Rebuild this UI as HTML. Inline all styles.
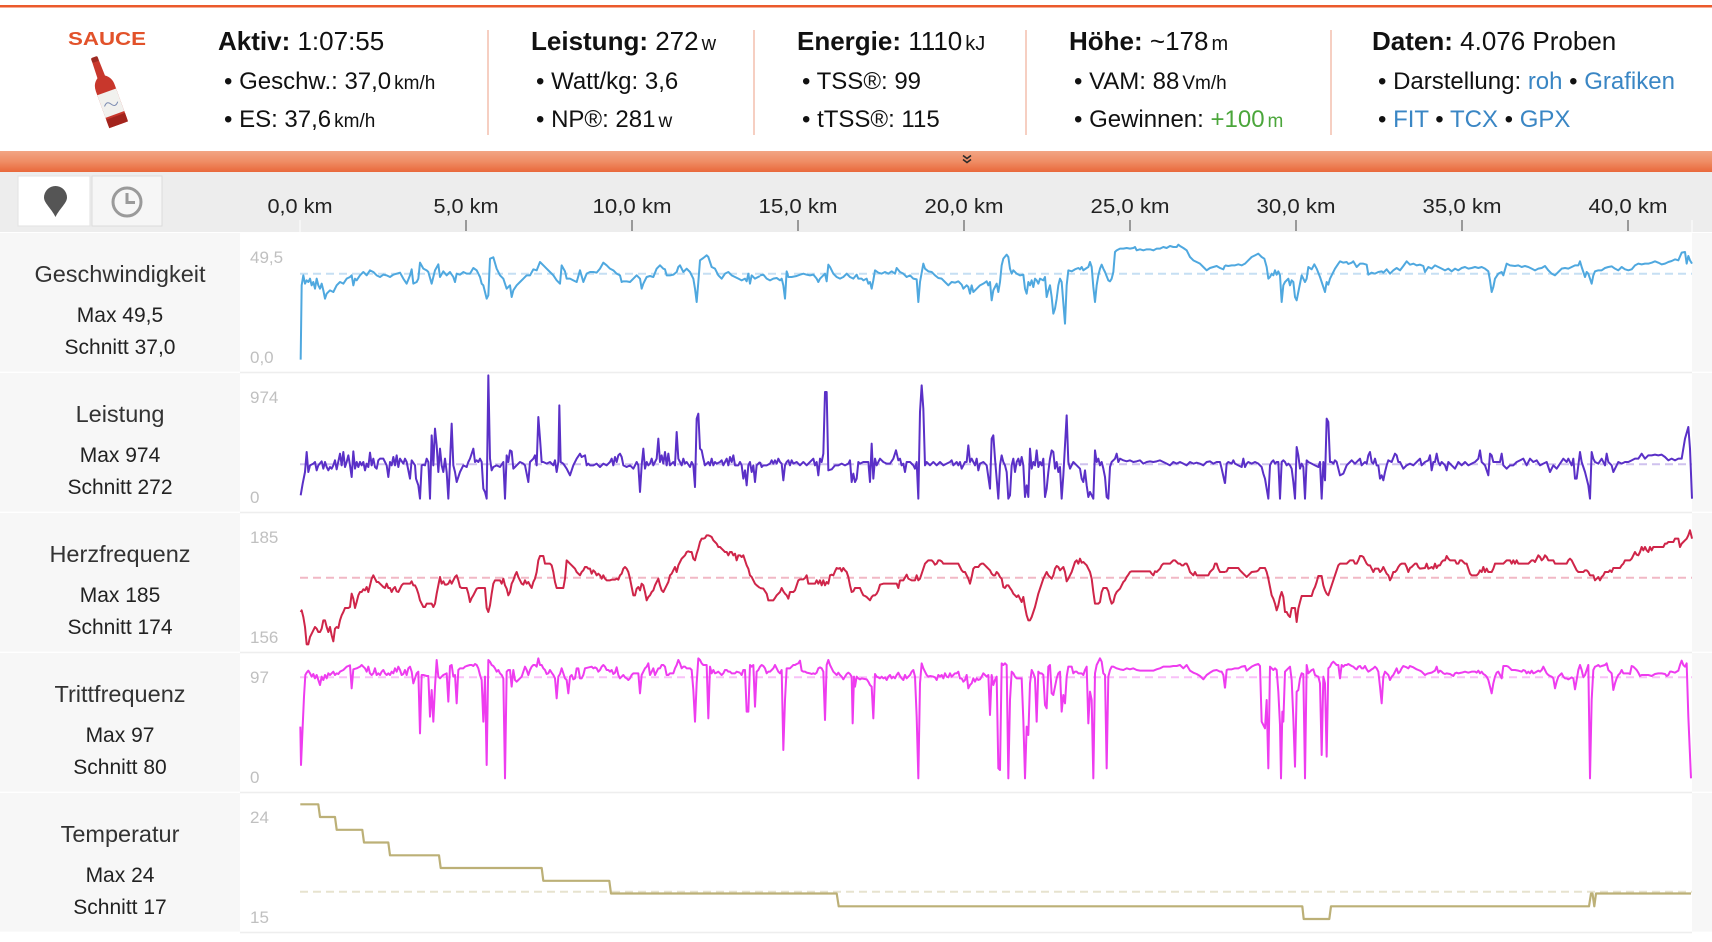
<!DOCTYPE html>
<html><head><meta charset="utf-8"><style>
html,body{margin:0;padding:0;background:#fff;}
body{width:1712px;height:942px;overflow:hidden;}
svg{display:block;font-family:"Liberation Sans",sans-serif;}
</style></head><body>
<svg width="1712" height="942" viewBox="0 0 1712 942" xmlns="http://www.w3.org/2000/svg">
<defs>
<linearGradient id="band" x1="0" y1="0" x2="0" y2="1">
<stop offset="0" stop-color="#f2a584"/><stop offset="0.5" stop-color="#ef8d65"/><stop offset="1" stop-color="#e9683b"/>
</linearGradient>
</defs>
<rect x="0" y="0" width="1712" height="942" fill="#fff"/>
<rect x="0" y="5" width="1712" height="2.5" fill="#eb5a2c"/>
<text x="68" y="45" font-size="18" font-weight="700" fill="#e2522a" textLength="78" lengthAdjust="spacingAndGlyphs">SAUCE</text>
<g transform="rotate(-20 106 90)">
<rect x="102.5" y="55" width="7" height="6" rx="1.5" fill="#9e2a22"/>
<path d="M102.5,60 L109.5,60 L110,76 Q116,80 116,88 L116,124 Q116,127 113,127 L99,127 Q96,127 96,124 L96,88 Q96,80 102,76 Z" fill="#c8372c"/>
<rect x="96" y="92" width="20" height="24" fill="#f1f1ee"/>
<path d="M99,105 q4,-5 7,0 t7,0" stroke="#7a8ab0" stroke-width="1" fill="none"/>
<rect x="96" y="118" width="20" height="9" fill="#a3241d"/>
</g>
<g stroke="#f4c3b2" stroke-width="1.6">
<line x1="488" y1="30" x2="488" y2="135"/>
<line x1="754" y1="30" x2="754" y2="135"/>
<line x1="1026" y1="30" x2="1026" y2="135"/>
<line x1="1331" y1="30" x2="1331" y2="135"/>
</g>
<g fill="#111">
<text x="218" y="50" font-size="26"><tspan font-weight="700">Aktiv:</tspan> 1:07:55</text>
<text x="224" y="89" font-size="24">• Geschw.: 37,0<tspan dx="3" font-size="19">km/h</tspan></text>
<text x="224" y="127" font-size="24">• ES: 37,6<tspan dx="3" font-size="19">km/h</tspan></text>

<text x="531" y="50" font-size="26"><tspan font-weight="700">Leistung:</tspan> 272<tspan dx="3" font-size="20">w</tspan></text>
<text x="536" y="89" font-size="24">• Watt/kg: 3,6</text>
<text x="536" y="127" font-size="24">• NP®: 281<tspan dx="3" font-size="19">w</tspan></text>

<text x="797" y="50" font-size="26"><tspan font-weight="700">Energie:</tspan> 1110<tspan dx="3" font-size="20">kJ</tspan></text>
<text x="802" y="89" font-size="24">• TSS®: 99</text>
<text x="802" y="127" font-size="24">• tTSS®: 115</text>

<text x="1069" y="50" font-size="26"><tspan font-weight="700">Höhe:</tspan> ~178<tspan dx="3" font-size="20">m</tspan></text>
<text x="1074" y="89" font-size="24">• VAM: 88<tspan dx="3" font-size="19">Vm/h</tspan></text>
<text x="1074" y="127" font-size="24">• Gewinnen: <tspan fill="#4ba63b">+100</tspan><tspan dx="3" font-size="19" fill="#4ba63b">m</tspan></text>

<text x="1372" y="50" font-size="26"><tspan font-weight="700">Daten:</tspan> 4.076 Proben</text>
<text x="1378" y="89" font-size="24">• Darstellung: <tspan fill="#3a86c4">roh</tspan> • <tspan fill="#3a86c4">Grafiken</tspan></text>
<text x="1378" y="127" font-size="24">• <tspan fill="#3a86c4">FIT</tspan> • <tspan fill="#3a86c4">TCX</tspan> • <tspan fill="#3a86c4">GPX</tspan></text>
</g>
<rect x="0" y="151" width="1712" height="21" fill="url(#band)"/>
<g stroke="#2a2a2a" stroke-width="1.6" fill="none">
<polyline points="963,155.5 967,158.5 971,155.5"/>
<polyline points="963,159.5 967,162.5 971,159.5"/>
</g>
<rect x="0" y="172" width="1712" height="60" fill="#ededed"/>
<rect x="18" y="176" width="72" height="50" fill="#fff" stroke="#e2e2e2" stroke-width="1"/>
<rect x="92" y="176" width="70" height="50" fill="#f6f6f6" stroke="#dcdcdc" stroke-width="1"/>
<path d="M55.5,217 C51,208 44,203 44,197.5 A11.5,11.5 0 1 1 67,197.5 C67,203 60,208 55.5,217 Z" fill="#555"/>
<circle cx="127" cy="202" r="14" fill="none" stroke="#9a9a9a" stroke-width="3"/>
<polyline points="127,193 127,202.5 135,202.5" fill="none" stroke="#9a9a9a" stroke-width="3"/>
<g font-size="20" fill="#222" text-anchor="middle">
<text x="300" y="213" textLength="65" lengthAdjust="spacingAndGlyphs">0,0 km</text>
<text x="466" y="213" textLength="65" lengthAdjust="spacingAndGlyphs">5,0 km</text>
<text x="632" y="213" textLength="79" lengthAdjust="spacingAndGlyphs">10,0 km</text>
<text x="798" y="213" textLength="79" lengthAdjust="spacingAndGlyphs">15,0 km</text>
<text x="964" y="213" textLength="79" lengthAdjust="spacingAndGlyphs">20,0 km</text>
<text x="1130" y="213" textLength="79" lengthAdjust="spacingAndGlyphs">25,0 km</text>
<text x="1296" y="213" textLength="79" lengthAdjust="spacingAndGlyphs">30,0 km</text>
<text x="1462" y="213" textLength="79" lengthAdjust="spacingAndGlyphs">35,0 km</text>
<text x="1628" y="213" textLength="79" lengthAdjust="spacingAndGlyphs">40,0 km</text>
</g>
<g stroke="#999" stroke-width="2">
<line x1="466" y1="220" x2="466" y2="231"/><line x1="632" y1="220" x2="632" y2="231"/>
<line x1="798" y1="220" x2="798" y2="231"/><line x1="964" y1="220" x2="964" y2="231"/>
<line x1="1130" y1="220" x2="1130" y2="231"/><line x1="1296" y1="220" x2="1296" y2="231"/>
<line x1="1462" y1="220" x2="1462" y2="231"/><line x1="1628" y1="220" x2="1628" y2="231"/>
</g>
<line x1="300" y1="220" x2="300" y2="232" stroke="#f8f8f8" stroke-width="1.5"/>
<line x1="1692" y1="220" x2="1692" y2="232" stroke="#f8f8f8" stroke-width="1.5"/>

<g fill="#f7f7f7">
<rect x="0" y="233" width="240" height="138.7"/><rect x="1692" y="233" width="20" height="138.7"/>
<rect x="0" y="373" width="240" height="138.7"/><rect x="1692" y="373" width="20" height="138.7"/>
<rect x="0" y="513" width="240" height="138.7"/><rect x="1692" y="513" width="20" height="138.7"/>
<rect x="0" y="653" width="240" height="138.7"/><rect x="1692" y="653" width="20" height="138.7"/>
<rect x="0" y="793" width="240" height="138.7"/><rect x="1692" y="793" width="20" height="138.7"/>
</g>
<g fill="#eeeeee">
<rect x="240" y="371.7" width="1452" height="1.6"/>
<rect x="240" y="511.7" width="1452" height="1.6"/>
<rect x="240" y="651.7" width="1452" height="1.6"/>
<rect x="240" y="791.7" width="1452" height="1.6"/>
<rect x="240" y="931.7" width="1452" height="1.6"/>
</g>
<g text-anchor="middle" fill="#222">
<text x="120" y="282" font-size="23.5" fill="#333">Geschwindigkeit</text>
<text x="120" y="322" font-size="21">Max 49,5</text>
<text x="120" y="354" font-size="21">Schnitt 37,0</text>
<text x="120" y="422" font-size="23.5" fill="#333">Leistung</text>
<text x="120" y="462" font-size="21">Max 974</text>
<text x="120" y="494" font-size="21">Schnitt 272</text>
<text x="120" y="562" font-size="23.5" fill="#333">Herzfrequenz</text>
<text x="120" y="602" font-size="21">Max 185</text>
<text x="120" y="634" font-size="21">Schnitt 174</text>
<text x="120" y="702" font-size="23.5" fill="#333">Trittfrequenz</text>
<text x="120" y="742" font-size="21">Max 97</text>
<text x="120" y="774" font-size="21">Schnitt 80</text>
<text x="120" y="842" font-size="23.5" fill="#333">Temperatur</text>
<text x="120" y="882" font-size="21">Max 24</text>
<text x="120" y="914" font-size="21">Schnitt 17</text>
</g>
<g font-size="17" fill="#c0c0c0">
<text x="250" y="263">49,5</text><text x="250" y="363">0,0</text>
<text x="250" y="403">974</text><text x="250" y="503">0</text>
<text x="250" y="543">185</text><text x="250" y="643">156</text>
<text x="250" y="683">97</text><text x="250" y="783">0</text>
<text x="250" y="823">24</text><text x="250" y="923">15</text>
</g>
<g stroke-width="2" stroke-dasharray="8 5" fill="none">
<line x1="300" y1="273.7" x2="1692" y2="273.7" stroke="#c6dff3"/>
<line x1="300" y1="464.3" x2="1692" y2="464.3" stroke="#cfc2ee"/>
<line x1="300" y1="577.7" x2="1692" y2="577.7" stroke="#f1b8c5"/>
<line x1="300" y1="677.3" x2="1692" y2="677.3" stroke="#f8c0f8"/>
<line x1="300" y1="891.7" x2="1692" y2="891.7" stroke="#e7e3cf"/>
</g>

<g fill="none" stroke="#4fa8df" stroke-width="6" stroke-linejoin="round">
<polyline transform="translate(290,232) scale(0.333333)" points="32,383 35,160 40,130 45,155 50,145 55,150 60,140 65,160 70,150 75,170 80,140 85,160 90,170 95,155 100,175 105,200 110,185 120,175 130,180 140,160 150,150 160,155 170,140 180,135 185,130 190,160 195,140 200,145 210,130 220,120 230,130 240,115 250,120 260,130 270,135 280,128 290,130 300,135 310,128 320,125 330,122 340,140 350,155 360,130 365,112 370,155 380,150 385,140 390,92 400,110 410,115 415,120 425,155 435,115 445,97 450,135 460,118 470,130 480,120 490,135 495,150 500,125 510,128 520,120 530,125 540,125 550,108 560,115 570,135 575,155 580,160 590,200 595,190 600,80 610,76 620,110 630,130 640,140 650,170 660,160 665,195 670,175 680,160 690,150 700,140 710,130 720,130 730,112 740,115 750,90 760,100 770,110 780,120 790,130 800,145 810,155 815,100 825,118 830,140 840,140 850,145 860,150 870,115 880,150 890,125 900,120 910,120 920,122 930,110 940,92 950,100 960,110 970,115 980,125 990,130 995,150 1000,148 1010,148 1020,150 1030,140 1040,130 1050,140 1055,170 1060,155 1070,135 1080,132 1090,135 1100,110 1110,100 1120,110 1125,112 1130,130 1140,130 1150,128 1160,120 1165,105 1170,100 1180,120 1190,110 1200,120 1210,140 1215,170 1220,210 1225,150 1230,85 1240,78 1250,70 1255,75 1265,105 1275,110 1285,130 1295,140 1305,125 1315,120 1325,130 1335,135 1345,140 1355,145 1365,140 1370,148 1375,125 1380,155 1385,130 1395,140 1410,132"/>
<polyline transform="translate(760,232) scale(0.333333)" points="0,130 10,128 20,140 30,145 40,140 50,138 60,145 65,140 70,160 75,200 80,118 85,135 95,135 110,132 120,128 130,125 140,128 150,130 160,128 170,140 175,150 180,140 190,130 195,125 200,148 205,98 210,105 215,115 220,125 230,135 240,140 250,135 260,125 270,135 280,140 290,128 295,140 305,140 310,145 320,140 325,155 330,150 335,170 340,145 345,115 355,122 365,125 375,120 385,125 395,118 405,125 410,108 420,120 430,125 440,135 450,130 460,140 470,142 475,210 480,150 490,95 495,110 505,118 515,120 525,130 535,138 545,140 555,150 565,160 575,150 585,152 595,148 605,158 610,170 620,160 625,165 630,185 635,160 640,180 650,170 660,160 670,155 680,148 685,160 690,150 695,205 700,175 705,165 710,155 715,180 720,150 725,100 730,80 740,68 745,75 750,110 755,125 760,115 770,125 780,130 790,128 795,170 800,185 805,150 810,160 815,145 820,165 825,140 830,145 835,155 840,140 850,145 855,135 860,195 865,175 870,160 875,195 880,245 885,230 890,200 895,160 900,140 905,150 915,275 920,160 925,115 935,118 945,112 955,108 960,112 965,105 970,115 980,108 985,105 990,90 995,105 1000,165 1005,210 1010,160 1015,130 1020,110 1025,98 1030,110 1035,120 1045,145 1050,148 1055,140 1060,120 1065,60 1070,55 1080,50 1090,50 1100,48 1110,50 1120,48 1125,45 1130,55 1140,52 1150,55 1160,52 1170,52 1180,55 1190,50 1200,50 1210,45 1220,48 1230,42 1240,45 1250,45 1255,38 1260,42 1270,48 1280,55 1290,75 1300,85 1310,90 1320,95 1330,105 1340,115 1350,108 1360,105 1370,102 1380,108 1390,112 1395,100"/>
<polyline transform="translate(1225,232) scale(0.333333)" points="0,100 10,102 20,100 30,100 40,97 50,100 60,95 70,85 80,75 90,70 100,65 110,75 118,80 125,105 130,140 135,135 140,125 145,130 150,115 155,128 160,118 165,130 170,210 175,160 180,150 190,140 195,160 200,145 205,150 210,195 215,205 220,180 230,130 240,150 245,140 250,105 260,112 268,97 275,110 285,135 295,165 300,180 305,150 310,158 315,140 320,130 330,110 340,95 345,88 355,92 365,90 370,96 380,92 385,88 395,105 405,95 415,95 425,98 430,128 440,122 450,125 460,120 470,118 475,122 485,112 495,125 505,115 515,108 525,115 535,102 545,88 555,98 565,95 575,100 585,98 595,102 600,120 610,105 620,110 630,100 640,105 650,110 660,115 670,110 680,118 690,110 700,115 710,108 720,105 730,110 740,108 750,105 760,108 770,105 780,110 790,118 795,145 800,180 805,165 810,140 820,125 830,120 835,130 845,95 855,100 870,102 880,100 890,105 900,102 910,105 920,110 930,115 940,110 950,108 960,102 970,115 980,125 990,130 1000,120 1010,110 1020,108 1030,110 1040,105 1050,100 1060,100 1065,88 1070,105 1080,135 1085,120 1090,125 1100,155 1105,130 1110,118 1120,115 1130,115 1140,108 1150,105 1160,103 1170,110 1180,115 1190,105 1200,112 1210,115 1220,112 1230,100 1240,95 1250,97 1260,95 1270,95 1280,92 1290,88 1300,92 1310,97 1320,95 1330,90 1340,87 1350,82 1360,85 1370,62 1380,60 1385,95 1390,72 1395,85 1401,95"/>
</g>

<g fill="none" stroke="#5a30c7" stroke-width="6" stroke-linejoin="round">
<polyline transform="translate(290,232) scale(0.333333)" points="32,790 38,755 45,720 50,660 55,720 60,700 70,695 75,690 80,715 85,700 95,688 100,710 105,690 110,705 115,715 120,705 125,710 130,700 135,685 140,712 150,665 155,700 160,660 165,705 170,690 175,670 180,700 185,735 190,658 195,710 200,690 205,705 210,690 215,700 220,690 225,715 230,695 235,705 240,662 245,700 250,680 255,705 260,710 265,685 270,680 280,680 290,700 295,735 300,690 305,700 310,675 315,700 320,670 325,705 330,680 340,695 345,680 350,690 355,715 360,740 365,685 375,700 378,740 385,760 390,800 395,700 400,698 405,700 410,680 415,690 420,800 425,610 430,700 435,590 440,640 445,720 450,650 455,700 460,720 465,680 470,720 475,800 480,690 485,575 490,700 495,720 500,750 510,720 520,700 530,705 535,690 540,680 545,665 550,650 555,690 560,685 565,690 570,680 575,690 580,770 585,780 590,800 595,430 600,680 605,715 610,705 620,700 630,705 640,690 645,800 650,670 655,690 660,655 665,658 670,710 675,705 680,700 690,690 700,695 705,700 710,725 715,750 720,690 730,680 735,670 740,700 745,555 750,620 755,690 760,690 770,695 780,690 790,700 795,685 800,720 805,690 808,520 812,690 820,695 830,710 835,720 840,730 850,700 860,680 870,665 875,675 885,670 890,700 895,695 900,700 910,700 920,695 930,705 940,695 950,700 960,690 965,680 970,700 975,675 980,690 985,670 990,665 995,675 1000,700 1010,705 1020,700 1030,710 1040,690 1045,700 1050,780 1055,700 1060,650 1065,710 1070,690 1075,700 1080,695 1085,680 1090,700 1095,690 1100,680 1105,620 1110,690 1115,670 1120,695 1125,660 1130,700 1135,665 1140,700 1150,690 1155,700 1160,600 1165,680 1170,690 1175,700 1180,680 1185,695 1190,690 1200,705 1205,690 1210,700 1215,765 1220,560 1225,545 1230,650 1235,655 1240,680 1245,700 1250,695 1255,690 1260,700 1265,680 1270,700 1275,690 1280,695 1290,690 1295,685 1300,700 1305,690 1310,680 1315,700 1320,675 1325,690 1330,670 1335,700 1345,700 1350,690 1355,700 1360,740 1365,715 1370,760 1375,700 1380,690 1385,720 1390,700 1395,750 1400,700 1410,690"/>
<polyline transform="translate(760,232) scale(0.333333)" points="0,690 5,705 10,700 20,700 30,695 35,685 40,695 45,685 50,695 55,680 60,690 65,695 70,745 75,700 80,690 85,685 90,700 95,685 100,695 110,690 115,695 120,700 130,690 140,700 150,690 155,685 160,680 165,700 170,690 175,730 180,680 185,690 190,665 195,480 200,480 205,715 215,712 225,700 235,700 245,695 255,700 265,695 270,685 275,750 280,725 285,750 290,740 295,690 300,695 310,690 320,690 325,690 330,750 335,635 340,740 345,680 350,700 355,690 360,680 370,690 380,695 390,695 400,680 408,655 415,685 420,680 425,700 430,695 435,720 440,690 450,690 460,700 465,710 470,690 475,800 480,540 485,460 490,530 495,700 500,690 510,700 520,690 530,700 540,690 550,700 560,695 570,690 575,685 580,700 590,690 595,700 600,690 605,710 615,690 620,690 625,640 630,690 635,680 640,690 645,700 650,680 655,715 660,695 670,690 680,700 690,770 695,620 700,610 705,680 710,740 715,800 720,700 725,670 730,690 735,700 740,720 745,800 750,790 755,700 760,680 765,720 770,690 775,680 780,700 785,675 790,700 795,795 800,760 805,795 810,650 815,710 820,690 825,700 830,655 835,705 840,690 845,700 850,680 855,795 860,770 865,720 870,680 875,655 880,660 885,710 890,690 895,720 900,705 905,800 910,730 915,640 920,550 925,690 930,710 935,700 940,690 950,700 960,710 965,740 970,750 975,715 980,760 985,795 990,780 995,790 1000,800 1005,655 1010,690 1015,680 1020,700 1025,690 1030,710 1035,735 1040,795 1045,800 1050,705 1055,690 1060,685 1065,680 1070,665 1075,690 1080,680 1090,685 1100,688 1110,685 1120,690 1130,688 1140,685 1150,695 1160,690 1170,688 1180,690 1190,688 1200,685 1210,690 1220,695 1230,700 1240,690 1250,695 1260,690 1270,695 1280,700 1290,690 1300,695 1310,692 1320,695 1330,700 1340,690 1350,688 1360,695 1370,690 1380,690 1385,710 1395,755"/>
<polyline transform="translate(1225,232) scale(0.333333)" points="0,755 5,695 10,690 20,695 25,685 30,695 40,700 50,705 55,680 60,705 65,695 70,690 80,695 90,690 100,695 110,705 115,725 120,740 125,770 130,800 135,700 140,690 145,685 150,695 155,690 160,690 165,800 170,690 175,685 180,690 185,700 190,695 195,700 200,710 205,750 210,800 215,645 220,670 225,710 230,695 235,705 240,800 245,685 250,690 260,695 270,700 280,705 285,690 290,800 295,690 300,745 305,560 310,570 315,690 320,690 325,695 330,685 335,690 345,730 355,725 365,700 375,690 380,685 390,695 400,685 405,680 410,700 420,690 425,695 430,670 435,660 440,690 445,695 450,680 455,700 460,700 465,740 470,730 475,745 480,720 485,700 490,685 500,690 510,665 515,670 520,690 525,690 535,710 545,700 555,695 565,700 575,690 585,680 590,700 600,690 610,685 615,670 620,715 625,690 630,690 635,665 640,690 645,700 650,690 660,700 665,715 670,690 680,700 690,710 700,690 710,700 720,690 730,700 740,695 750,690 760,680 765,655 770,690 780,700 790,730 795,665 800,670 805,690 815,690 825,690 830,665 835,700 845,710 855,700 865,700 875,690 885,685 895,680 905,700 915,680 925,690 935,685 945,700 955,695 965,690 975,720 985,700 995,710 1005,695 1015,680 1025,690 1030,680 1040,700 1045,680 1050,740 1055,740 1060,700 1065,660 1070,690 1080,720 1085,740 1090,760 1095,800 1100,660 1105,680 1110,690 1120,695 1130,680 1140,700 1145,665 1150,690 1160,700 1165,720 1175,700 1180,690 1190,695 1200,690 1210,690 1220,685 1230,680 1240,680 1250,665 1260,680 1270,670 1280,670 1290,668 1300,670 1310,668 1320,675 1330,685 1340,680 1350,685 1360,680 1370,680 1380,620 1390,585 1395,650 1401,800"/>
</g>

<g fill="none" stroke="#cf2549" stroke-width="6" stroke-linejoin="round">
<polyline transform="translate(290,232) scale(0.333333)" points="32,1140 35,1135 40,1155 45,1185 50,1237 55,1237 60,1215 65,1205 70,1195 75,1185 80,1190 85,1200 90,1200 95,1190 100,1165 105,1165 110,1185 115,1200 120,1185 125,1210 130,1228 135,1190 140,1185 145,1188 150,1165 155,1150 160,1140 165,1128 170,1128 175,1128 180,1125 185,1085 190,1100 195,1128 200,1110 205,1090 210,1080 215,1080 220,1072 225,1075 230,1065 235,1080 240,1060 245,1040 250,1030 255,1040 260,1050 265,1050 270,1055 275,1060 280,1065 285,1068 290,1055 295,1068 300,1068 305,1080 310,1070 315,1065 320,1078 325,1080 330,1070 335,1060 340,1055 345,1055 350,1055 355,1055 360,1055 365,1048 370,1060 375,1060 380,1070 385,1085 390,1105 395,1115 400,1125 405,1125 410,1115 420,1115 425,1115 430,1125 435,1115 440,1085 445,1060 450,1035 455,1055 460,1048 465,1058 470,1058 475,1055 480,1045 485,1055 490,1045 495,1035 500,1030 505,1045 510,1065 515,1068 520,1068 525,1068 530,1068 535,1085 540,1110 545,1098 550,1090 555,1080 560,1070 565,1068 570,1068 575,1068 580,1068 585,1068 590,1128 595,1140 600,1120 605,1085 610,1055 615,1045 620,1045 625,1045 630,1045 635,1055 640,1040 645,1060 650,1070 655,1090 660,1080 665,1055 670,1045 675,1030 680,1020 685,1035 690,1045 695,1055 700,1058 705,1045 710,1055 715,1050 720,1060 725,1068 730,1050 735,1040 740,1020 745,985 750,972 755,972 760,972 765,995 770,995 775,995 780,995 785,1000 790,1020 795,1050 800,1068 805,1068 810,1068 815,1068 820,1068 825,1040 830,985 835,990 840,995 845,1000 850,1005 855,1010 860,1020 865,1025 870,1030 875,1020 880,1015 885,1005 890,1005 895,1010 900,1010 905,1025 910,1015 915,1020 920,1030 925,1025 930,1030 935,1040 940,1030 945,1040 950,1045 955,1045 960,1045 965,1043 970,1043 975,1043 980,1040 985,1043 990,1030 995,1025 1000,1010 1005,1005 1010,1010 1015,1020 1020,1040 1025,1065 1030,1090 1035,1090 1040,1070 1045,1065 1050,1075 1055,1055 1060,1060 1065,1080 1070,1105 1075,1095 1080,1090 1085,1080 1090,1075 1095,1060 1100,1050 1105,1040 1110,1060 1115,1075 1120,1080 1125,1070 1130,1060 1135,1050 1140,1030 1145,1025 1150,1015 1155,1005 1160,1020 1165,1000 1170,990 1175,980 1180,975 1185,970 1190,960 1195,958 1200,960 1205,960 1210,980 1215,985 1220,965 1225,950 1230,930 1235,920 1240,920 1245,918 1250,910 1255,910 1260,912 1265,915 1270,925 1275,930 1280,935 1285,945 1290,945 1295,950 1300,955 1305,960 1310,960 1315,970 1320,960 1325,960 1330,970 1335,965 1340,985 1345,970 1350,970 1355,975 1360,970 1365,985 1370,1000 1375,1010 1380,1030 1385,1035 1390,1045 1395,1055 1400,1060 1410,1068"/>
<polyline transform="translate(760,232) scale(0.333333)" points="0,1068 10,1070 20,1085 25,1105 30,1105 40,1105 45,1098 50,1090 55,1085 60,1080 65,1068 70,1078 75,1085 80,1090 85,1100 90,1080 100,1080 105,1075 110,1060 115,1045 120,1042 125,1042 130,1042 135,1038 140,1030 145,1055 150,1055 160,1055 165,1055 170,1045 175,1055 180,1045 185,1060 190,1045 195,1060 200,1050 205,1055 210,1030 215,1028 220,1030 225,1018 230,1008 235,1010 240,1008 245,1018 250,1008 255,1015 260,1020 265,1035 270,1060 275,1080 280,1078 285,1068 290,1068 295,1068 300,1068 305,1080 310,1090 315,1092 320,1095 325,1100 330,1105 335,1095 340,1090 345,1090 350,1085 355,1075 360,1058 370,1055 380,1055 390,1055 400,1055 410,1055 415,1068 420,1045 430,1045 440,1028 445,1040 455,1045 465,1045 470,1030 475,1045 480,1040 485,1025 490,1010 495,995 500,990 505,985 510,985 515,985 520,990 525,998 530,995 535,985 540,985 545,988 550,995 560,995 570,995 580,995 590,995 595,995 600,1005 605,1015 610,1020 615,1020 620,1030 625,1040 630,1055 635,1035 640,1010 645,1005 650,1005 655,1005 660,998 665,995 670,995 675,1000 680,1005 685,1010 690,1015 695,1025 700,1030 705,1030 710,1020 715,1025 720,1035 725,1040 730,1065 735,1068 740,1060 745,1060 750,1068 755,1075 760,1085 765,1090 770,1095 775,1090 780,1100 785,1110 790,1095 795,1125 800,1150 805,1165 810,1165 815,1155 820,1140 825,1125 830,1105 835,1085 840,1070 845,1055 850,1040 855,1030 860,1020 865,1030 870,1035 875,1040 880,1030 885,1010 890,1002 895,1005 900,1015 905,1010 910,1005 915,1020 920,1048 925,1040 930,1030 935,1020 940,1005 945,990 950,985 955,995 960,980 965,992 970,990 975,995 980,1000 985,1010 990,1020 995,1040 1000,1080 1005,1115 1010,1115 1015,1115 1020,1110 1025,1080 1030,1068 1035,1068 1040,1068 1045,1078 1050,1100 1055,1115 1060,1110 1065,1090 1070,1080 1075,1075 1080,1070 1085,1060 1090,1050 1095,1045 1100,1035 1105,1028 1110,1020 1115,1018 1170,1018 1175,1025 1180,1030 1185,1018 1190,1020 1195,1015 1200,1010 1205,1000 1210,995 1230,995 1235,990 1240,985 1245,985 1250,990 1255,995 1260,995 1265,1000 1270,1000 1275,995 1280,995 1285,1005 1290,1020 1295,1025 1300,1030 1305,1020 1310,1030 1345,1030 1350,1020 1355,1015 1360,1010 1365,995 1370,995 1375,1010 1380,1020 1395,1020"/>
<polyline transform="translate(1225,232) scale(0.333333)" points="0,1020 5,1018 10,1008 40,1008 45,1015 50,1020 55,1025 60,1030 65,1035 70,1030 75,1025 80,1020 95,1018 100,1015 105,1008 120,1008 125,1020 130,1040 135,1065 140,1090 145,1100 150,1115 155,1135 160,1120 165,1095 170,1080 175,1095 180,1140 185,1140 190,1150 195,1155 200,1128 210,1128 215,1170 220,1130 225,1110 230,1092 260,1092 265,1075 270,1065 275,1050 280,1032 290,1032 295,1060 300,1075 305,1085 310,1090 315,1075 320,1060 325,1045 330,1030 335,1015 340,1000 345,995 365,995 370,990 375,985 385,985 390,995 395,995 400,985 405,972 410,972 415,975 420,985 425,995 430,1000 435,1000 440,1010 445,1020 450,1010 460,1010 465,1020 470,1015 475,1005 480,1015 485,1025 490,1030 495,1045 500,1035 505,1020 510,1020 515,1015 520,1005 525,998 530,995 540,995 545,1005 550,1020 555,1008 560,1005 565,1000 570,995 575,995 580,1005 585,1010 600,1008 605,995 610,1010 615,1008 620,1005 625,1010 630,995 635,1008 640,1000 645,1000 650,990 655,985 660,985 665,972 670,980 675,985 690,985 695,995 700,995 705,985 710,985 715,990 720,995 725,995 730,1010 735,1025 740,1030 755,1030 760,1025 765,1015 770,1020 775,1005 780,1020 785,1010 790,1020 800,1020 805,1010 810,995 835,995 840,990 845,985 855,985 860,995 865,985 870,995 875,985 880,995 910,995 915,990 920,985 925,985 930,990 935,980 940,970 945,975 950,985 955,980 960,970 965,975 970,985 985,985 990,995 1025,995 1030,985 1035,980 1040,985 1045,995 1050,1005 1055,1015 1060,1020 1075,1020 1080,1015 1085,1015 1090,1020 1095,1030 1105,1030 1110,1045 1115,1040 1120,1035 1125,1045 1130,1035 1135,1030 1140,1020 1150,1020 1155,1015 1160,1020 1165,1008 1185,1008 1190,1000 1195,995 1200,985 1215,985 1220,980 1225,970 1230,960 1235,968 1240,970 1245,960 1250,945 1255,955 1260,945 1265,955 1270,960 1275,945 1280,955 1285,945 1315,945 1320,935 1325,935 1330,930 1345,930 1350,920 1360,920 1365,945 1370,935 1375,930 1380,925 1385,920 1390,910 1395,895 1400,915 1401,920"/>
</g>

<g fill="none" stroke="#ee3cef" stroke-width="6" stroke-linejoin="round">
<polyline transform="translate(230,650) scale(0.333333)" points="211,230 213,345 218,230 222,140 226,75 230,68 235,62 240,70 245,80 250,72 255,85 260,75 265,90 270,105 275,80 280,90 285,75 290,85 295,70 300,75 305,70 310,65 315,75 320,70 325,72 330,65 340,60 350,50 355,48 360,46 365,115 370,58 380,55 390,50 395,45 400,50 405,55 410,65 415,50 420,70 425,75 430,70 435,55 440,75 445,70 450,75 455,65 460,60 465,70 470,75 475,70 480,75 485,65 490,70 495,55 500,65 505,50 510,60 515,75 520,72 525,60 530,75 535,55 540,50 545,65 550,100 555,85 560,70 565,65 570,250 575,75 580,75 590,78 595,78 600,200 605,120 610,215 615,110 620,30 625,80 630,85 640,75 650,70 655,155 660,48 665,45 670,80 675,75 680,160 685,60 690,55 700,55 705,50 710,48 720,45 725,45 730,48 735,42 740,45 745,55 750,75 755,90 760,215 765,80 770,345 775,30 780,35 785,45 790,48 795,55 800,65 805,60 810,70 815,75 820,85 825,385 830,65 835,60 840,60 845,110 850,60 855,90 860,95 865,90 870,85 875,80 880,65 885,50 890,60 895,75 900,60 905,50 910,45 915,45 920,50 925,25 930,45 935,45 940,55 945,60 950,72 955,70 960,60 965,68 970,75 975,85 980,145 985,80 990,72 995,55 1000,70 1005,85 1010,90 1015,130 1020,80 1025,75 1030,88 1035,85 1040,55 1045,55 1050,85 1055,85 1060,75 1065,55 1085,50 1090,55 1095,52 1100,55 1105,65 1110,60 1115,50 1120,45 1125,50 1130,60 1135,60 1140,65 1145,60 1150,72 1155,68 1160,52 1165,75 1170,85 1175,80 1180,75 1185,82 1190,85 1195,90 1200,85 1205,75 1210,70 1225,70 1230,130 1235,75 1240,65 1245,55 1250,50 1255,40 1260,75 1265,65 1270,55 1275,75 1280,65 1285,55 1290,55 1295,45 1300,45 1305,50 1310,75 1315,75 1320,70 1330,70 1335,55 1340,45 1345,30 1350,40 1355,55 1360,50 1365,50 1370,55 1380,55 1385,60 1390,120 1395,215 1400,100 1405,25 1410,30 1415,40 1420,45 1430,45 1435,205 1440,50 1445,70 1450,60 1455,70 1460,68 1465,65 1470,70 1475,75 1480,70 1485,60 1490,60 1495,65 1500,65 1505,70 1515,70 1520,65 1530,68"/>
<polyline transform="translate(740,650) scale(0.333333)" points="0,68 5,75 10,60 15,60 20,185 25,185 30,45 35,50 40,45 45,170 50,65 55,60 60,50 65,45 70,48 75,55 80,70 85,65 90,65 95,60 100,55 105,45 110,55 115,65 120,70 125,60 130,300 135,150 140,55 150,55 155,50 160,45 165,45 170,42 175,40 180,32 185,62 190,65 195,65 200,68 210,70 215,72 220,70 225,72 230,68 235,55 240,52 245,55 250,65 255,210 260,45 265,30 270,45 275,55 280,65 285,70 290,75 295,68 300,75 305,80 310,88 315,80 320,72 325,68 330,72 335,80 338,220 342,80 345,110 350,80 355,85 360,88 365,85 380,88 385,95 390,105 395,110 400,205 405,72 410,80 415,82 420,85 425,80 430,85 435,82 440,90 445,80 450,75 455,85 460,80 465,85 470,75 475,68 480,78 485,85 490,90 495,75 500,85 505,80 510,75 515,65 520,60 525,80 530,200 535,385 540,100 545,40 550,55 555,65 560,75 565,80 570,78 580,80 585,82 590,90 595,75 600,80 605,75 610,85 615,70 620,80 625,82 630,70 635,80 640,75 645,70 650,70 655,65 660,85 665,85 670,95 675,90 680,75 685,115 690,105 695,100 700,85 705,95 710,85 715,90 720,88 725,80 730,70 735,75 740,80 745,75 750,195 755,75 760,105 765,90 770,80 775,355 780,360 785,40 790,45 795,40 800,45 805,385 810,150 815,65 820,70 825,80 830,85 845,85 850,210 855,385 860,230 865,255 870,100 875,60 880,70 885,85 890,215 895,65 900,70 905,70 910,75 915,165 920,175 925,50 930,45 935,130 940,135 945,110 950,85 955,70 960,65 965,185 970,135 975,160 980,80 985,50 995,50 1000,70 1005,65 1010,65 1015,70 1025,70 1030,75 1035,60 1040,50 1045,220 1050,125 1055,150 1060,385 1065,70 1070,45 1075,35 1080,25 1085,35 1090,70 1095,75 1100,355 1105,80 1110,60 1115,50 1120,50 1130,55 1140,58 1150,60 1160,55 1170,58 1180,55 1190,60 1200,62 1240,62 1250,58 1260,55 1270,50 1290,50 1300,48 1310,48 1320,45 1330,55 1340,45 1350,62 1360,68 1370,72 1380,78 1390,88 1400,75 1410,68 1420,62 1430,60 1440,65 1445,65 1450,75 1455,115"/>
<polyline transform="translate(1225,650) scale(0.333333)" points="0,115 5,60 10,58 20,58 30,55 40,55 50,50 60,48 65,62 70,58 80,50 90,45 100,42 105,48 110,215 115,225 120,235 125,150 130,355 135,50 140,55 145,60 150,55 155,60 160,125 165,225 168,385 172,185 175,215 180,65 185,60 190,55 195,50 200,90 205,205 210,350 215,125 220,120 225,85 230,70 235,72 240,385 245,45 250,70 255,65 260,60 265,58 270,75 275,78 280,80 285,100 290,315 295,80 300,100 305,320 310,55 315,50 320,40 325,35 330,40 335,45 340,45 345,85 350,45 355,50 360,45 365,45 370,42 375,45 380,48 385,50 390,55 395,58 400,50 405,48 410,55 415,55 420,48 425,58 430,65 435,62 440,58 445,55 450,50 455,55 460,65 465,110 470,160 475,80 480,65 485,70 490,75 495,90 500,80 505,75 510,65 515,55 520,70 525,65 530,55 535,48 540,50 545,52 550,55 555,48 560,50 565,52 570,55 575,58 580,60 585,62 590,65 595,70 600,75 605,72 610,70 620,68 625,65 630,62 635,50 640,68 645,62 650,65 655,70 660,72 665,70 675,72 680,75 685,78 690,70 695,68 700,70 710,68 720,65 730,68 740,65 750,65 755,68 760,62 765,70 770,65 775,72 780,75 785,80 790,90 795,110 800,130 805,100 810,80 815,68 820,65 825,75 830,85 835,48 845,48 850,50 855,55 860,60 870,60 880,62 890,65 895,60 900,62 905,70 910,65 915,70 920,62 925,70 930,68 935,65 940,62 945,65 950,60 955,50 960,60 965,70 970,75 975,78 980,80 985,85 990,115 995,95 1000,80 1005,75 1010,70 1015,80 1020,85 1025,85 1030,88 1035,85 1040,82 1045,85 1050,118 1055,90 1060,60 1065,45 1070,60 1075,82 1080,75 1085,60 1090,45 1095,385 1100,150 1105,60 1110,50 1115,48 1120,45 1125,50 1130,48 1140,45 1145,40 1150,60 1155,65 1160,70 1165,120 1170,100 1175,85 1180,75 1185,70 1190,60 1195,70 1210,70 1215,72 1220,48 1225,50 1230,55 1235,60 1240,68 1245,78 1250,75 1270,75 1280,78 1290,72 1300,70 1310,70 1320,72 1325,78 1330,75 1335,65 1340,65 1350,68 1360,62 1365,45 1370,32 1375,45 1380,50 1385,40 1390,200 1398,385"/>
</g>

<polyline fill="none" stroke="#bcb077" stroke-width="2.2" stroke-linejoin="round" points="300.3,804.3 318.3,804.3 320,817 335,817 336.7,829.8 362.3,829.8 364,842.5 388.3,842.5 390,855.3 439,855.3 440.7,868 541.7,868 543.3,880.8 609.3,880.8 611,893.5 836.7,893.5 838.7,906.3 1302.3,906.3 1303.7,919 1329.3,919 1331,906.3 1589,906.3 1591,893.5 1592.5,893.5 1594.3,906.3 1596,893.5 1691,893.5"/>
</svg>
</body></html>
